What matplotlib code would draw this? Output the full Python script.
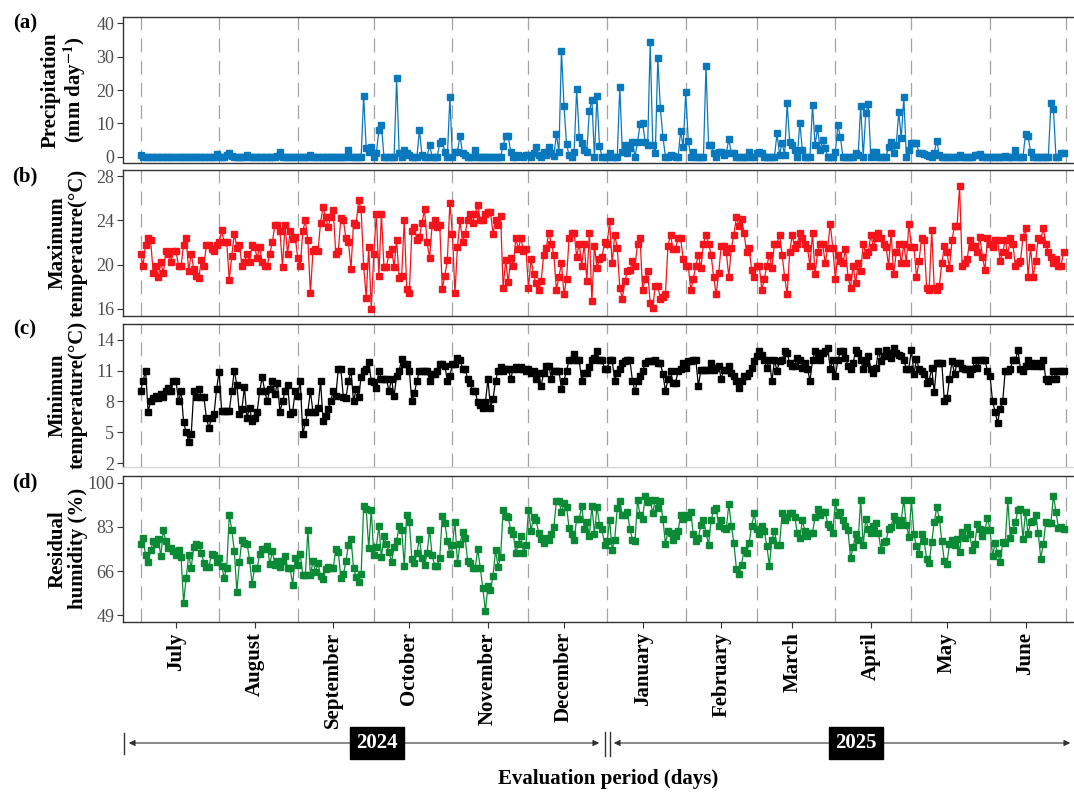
import matplotlib
matplotlib.use("Agg")
import matplotlib.pyplot as plt
import numpy as np
import pandas as pd
from matplotlib.patches import FancyArrowPatch
from matplotlib.lines import Line2D

# ---- data (daily, 1 Jul 2024 - 30 Jun 2025) ----
precipitation = [
    # Jul
    0.4, 0, 0, 0, 0, 0, 0, 0, 0, 0, 0, 0, 0, 0, 0, 0, 0, 0, 0, 0, 0, 0, 0, 0, 0, 0, 0, 0, 0, 0, 0.7,
    # Aug
    0, 0, 0, 0.5, 1.0, 0.3, 0, 0, 0, 0, 0, 0.5, 0, 0, 0, 0, 0, 0, 0, 0, 0, 0, 0, 0.3, 1.5, 0, 0, 0, 0, 0, 0,
    # Sep
    0, 0, 0, 0, 0, 0.5, 0, 0, 0, 0, 0, 0, 0, 0, 0, 0, 0, 0, 0, 0, 2.0, 0, 0, 0, 0, 0, 18.3, 2.5, 1.5, 3.0,
    # Oct
    0, 1.0, 8.0, 9.5, 0, 0, 0, 0, 0, 23.5, 1.0, 0, 2.0, 1.0, 0.5, 0, 0, 0, 8.0, 0.5, 0, 0, 3.5, 0, 0, 0,
    4.2, 4.8, 1.5, 0, 17.8,
    # Nov
    0, 1.5, 1.5, 6.3, 1.0, 0.5, 0, 0, 0, 2.0, 0, 0, 0, 0, 0, 0, 0, 0, 0, 0, 3.3, 6.2, 6.2, 1.5, 0, 0, 0.5, 0.3, 0, 0.5,
    # Dec
    0.5, 0, 1.0, 2.8, 0.5, 0, 1.5, 0.5, 3.0, 1.0, 0.3, 6.7, 1.5, 31.8, 15.2, 3.7, 0.5, 0, 1.5, 20.3, 6.0, 4.2,
    2.0, 1.5, 13.7, 17.0, 0, 18.2, 3.2, 0, 0,
    # Jan
    0, 1.0, 0, 0, 0, 21.0, 1.5, 3.5, 1.0, 2.5, 4.3, 0, 4.5, 9.7, 10.2, 4.5, 3.5, 34.3, 3.5, 1.0, 29.5, 14.5,
    6.0, 0, 0, 0.5, 0.3, 0, 0, 7.7, 2.9,
    # Feb
    19.5, 4.8, 0, 1.5, 0, 0, 0, 0, 27.2, 3.5, 3.5, 1.0, 0, 1.5, 1.3, 0.5, 1.0, 5.3, 1.0, 1.0, 0, 0, 0, 0, 0, 1.5, 0, 0,
    # Mar
    1.0, 1.5, 1.0, 0, 0, 0, 0, 0, 7.0, 0.5, 4.2, 0.5, 16.0, 4.5, 3.5, 2.0, 0, 10.2, 2.0, 0, 0, 0, 15.5, 3.5,
    8.5, 2.0, 5.0, 2.5, 0, 0, 0,
    # Apr
    1.5, 9.5, 5.8, 0, 0, 0, 0, 0, 1.0, 0.5, 15.3, 0, 13.0, 15.8, 0, 1.5, 1.5, 0, 0, 0, 0, 3.0, 4.5, 1.0, 3.5,
    13.3, 5.5, 18.0, 0, 2.0,
    # May
    4.2, 4.0, 4.2, 1.0, 1.0, 0.7, 0.5, 0.3, 0, 1.2, 4.8, 0.5, 0, 0, 0, 0, 0, 0, 0, 0.5, 0, 0, 0, 0, 0, 0.5, 0.5,
    0.7, 0, 0, 0,
    # Jun
    0, 0, 0, 0, 0, 0, 0.3, 0, 0, 0, 2.0, 0, 0, 0, 6.8, 6.2, 1.5, 0, 0, 0, 0, 0, 0, 0, 16.0, 14.3, 0, 0, 1.0, 1.0,
]

tmax = [
    # Jul
    21.0, 19.9, 21.8, 22.4, 22.2, 19.2, 19.9, 18.9, 20.2, 19.2, 21.2, 21.0, 20.2, 21.2, 21.2, 19.9, 19.9, 21.8,
    22.4, 19.4, 21.0, 19.6, 19.0, 18.8, 20.4, 19.9, 21.8, 21.8, 21.4, 21.2, 21.8,
    # Aug
    22.0, 23.1, 22.0, 22.0, 18.6, 20.8, 22.8, 21.5, 21.8, 19.9, 20.2, 21.0, 20.2, 21.8, 21.6, 20.6, 21.6, 20.2,
    19.9, 19.9, 21.0, 22.0, 23.6, 23.6, 23.0, 19.8, 23.6, 21.0, 23.0, 22.3, 22.5,
    # Sep
    20.6, 19.9, 23.0, 24.0, 22.2, 17.4, 21.2, 21.4, 21.2, 23.8, 25.2, 24.3, 23.4, 24.3, 24.9, 21.0, 21.2, 24.2,
    24.0, 22.4, 22.0, 19.6, 23.8, 23.6, 25.8, 25.0, 19.9, 17.0, 21.6, 16.0,
    # Oct
    21.0, 24.6, 19.0, 24.6, 19.8, 19.8, 21.0, 21.4, 19.8, 22.2, 18.8, 19.0, 24.0, 17.8, 17.4, 23.0, 23.4, 22.2,
    22.5, 23.8, 25.0, 22.0, 20.6, 23.6, 24.0, 23.4, 23.6, 17.8, 19.0, 20.4, 25.6,
    # Nov
    22.8, 17.4, 21.6, 24.0, 22.0, 22.8, 24.0, 24.6, 23.8, 24.6, 25.4, 24.0, 24.0, 24.6, 24.8, 24.8, 22.8, 24.0,
    23.6, 24.4, 17.9, 20.4, 18.4, 20.6, 19.9, 22.4, 21.4, 22.4, 21.2, 21.4,
    # Dec
    17.9, 20.5, 19.1, 18.3, 17.7, 18.5, 20.9, 21.5, 22.9, 21.9, 20.9, 17.7, 18.9, 20.1, 17.3, 18.7, 22.4, 22.9,
    22.9, 20.7, 21.9, 19.9, 21.9, 18.5, 22.9, 16.7, 21.7, 19.7, 20.5, 20.7, 22.0,
    # Jan
    21.9, 23.9, 20.1, 22.7, 21.5, 17.9, 16.9, 18.5, 19.4, 19.5, 20.3, 19.9, 21.9, 22.4, 17.7, 18.7, 19.4, 16.5,
    16.1, 18.1, 18.1, 16.9, 17.1, 17.3, 21.7, 22.7, 21.4, 21.4, 22.4, 22.4, 20.5,
    # Feb
    19.9, 19.9, 17.7, 18.7, 19.9, 20.9, 19.7, 21.9, 22.7, 21.9, 20.9, 18.9, 17.3, 19.2, 21.7, 21.7, 21.1, 18.9,
    21.5, 22.7, 24.3, 23.5, 24.1, 22.9, 21.1, 21.5, 19.5, 18.9,
    # Mar
    19.9, 19.9, 17.7, 18.7, 19.9, 20.9, 19.7, 21.9, 21.9, 22.7, 20.9, 18.9, 17.3, 21.1, 22.7, 21.5, 21.9, 22.9,
    22.4, 21.9, 21.5, 19.9, 22.9, 19.1, 21.1, 21.9, 21.9, 20.1, 21.5, 23.7, 21.5,
    # Apr
    18.7, 20.9, 20.3, 20.1, 21.4, 18.9, 17.9, 19.9, 18.3, 20.1, 19.4, 21.9, 20.9, 21.1, 22.7, 21.6, 22.4, 22.9,
    22.4, 21.9, 21.6, 19.9, 22.9, 19.1, 21.1, 21.9, 20.1, 21.9, 20.1, 23.7,
    # May
    21.6, 21.6, 18.9, 20.3, 22.4, 22.2, 17.9, 17.7, 23.1, 17.9, 17.7, 18.1, 20.1, 21.7, 21.1, 19.7, 22.2, 23.5,
    23.5, 27.1, 19.9, 20.1, 20.5, 22.2, 21.6, 21.7, 21.1, 22.5, 20.7, 19.5, 22.4,
    # Jun
    21.9, 21.6, 22.2, 22.2, 20.3, 21.1, 22.2, 20.9, 22.4, 21.9, 19.9, 20.1, 20.3, 22.5, 23.3, 18.9, 21.6, 18.9,
    20.3, 22.4, 22.2, 23.3, 21.9, 21.1, 20.7, 20.1, 20.5, 19.9, 19.9, 21.1,
]

tmin = [
    # Jul
    9.0, 10.0, 11.0, 7.0, 8.0, 8.3, 8.5, 8.3, 8.7, 8.4, 9.0, 9.3, 9.0, 10.0, 10.0, 8.0, 9.0, 6.0, 5.0, 4.1, 4.8,
    9.0, 8.4, 9.2, 8.4, 8.4, 6.4, 5.4, 6.4, 6.8, 9.2,
    # Aug
    10.9, 7.1, 7.1, 7.1, 7.1, 9.0, 11.0, 9.6, 6.8, 7.3, 9.4, 6.4, 7.4, 6.1, 6.4, 7.0, 9.0, 10.4, 9.0, 8.0, 9.2,
    10.0, 8.7, 9.8, 7.0, 8.0, 9.0, 9.6, 6.8, 7.0, 9.0,
    # Sep
    8.5, 10.0, 4.8, 6.0, 7.0, 9.0, 7.0, 7.0, 7.4, 10.0, 6.1, 6.6, 7.3, 8.0, 9.0, 8.5, 11.2, 11.2, 8.4, 8.3, 10.0,
    11.0, 8.0, 9.2, 8.4, 10.4, 11.0, 11.2, 11.8, 10.0,
    # Oct
    9.9, 9.3, 11.0, 10.2, 10.2, 10.2, 9.0, 10.2, 8.5, 10.5, 11.0, 12.1, 11.6, 11.6, 11.0, 8.0, 8.8, 10.0, 11.0,
    11.0, 11.0, 11.0, 10.0, 10.7, 10.7, 11.0, 11.6, 11.6, 11.5, 10.0, 10.5,
    # Nov
    11.6, 11.6, 12.2, 12.0, 11.2, 11.2, 10.2, 9.8, 9.0, 9.0, 7.9, 7.7, 7.4, 7.9, 10.2, 7.4, 8.2, 10.0, 11.0, 11.4,
    11.0, 11.2, 11.2, 10.2, 11.2, 11.4, 11.2, 11.4, 11.2, 11.0,
    # Dec
    11.2, 10.8, 11.0, 10.2, 10.8, 9.5, 10.8, 11.5, 11.5, 10.2, 11.0, 11.0, 11.0, 9.2, 10.0, 11.0, 12.0, 12.0,
    12.6, 12.0, 12.0, 10.0, 10.8, 10.8, 11.4, 12.0, 12.2, 12.9, 12.0, 12.0, 11.2,
    # Jan
    11.2, 12.0, 12.0, 10.0, 10.8, 11.2, 11.7, 11.9, 12.0, 12.0, 10.0, 9.0, 10.0, 10.5, 11.0, 11.7, 11.9, 11.9,
    11.9, 12.0, 11.7, 11.7, 10.7, 9.0, 10.2, 11.0, 9.8, 9.8, 11.0, 11.2, 11.7,
    # Feb
    11.3, 11.9, 11.9, 12.0, 12.0, 9.5, 11.1, 11.1, 11.1, 11.1, 11.7, 11.1, 11.3, 11.5, 10.2, 11.1, 11.1, 11.5,
    10.8, 10.5, 10.0, 9.3, 10.0, 10.5, 10.5, 10.8, 11.3, 11.9,
    # Mar
    12.4, 12.9, 12.5, 12.0, 11.3, 12.0, 10.0, 12.0, 11.0, 11.9, 12.0, 12.9, 12.7, 11.7, 11.5, 11.5, 12.2, 12.0,
    11.3, 11.7, 11.2, 10.0, 12.0, 12.9, 12.7, 12.0, 12.7, 12.9, 13.2, 11.2, 12.0,
    # Apr
    10.5, 12.0, 12.9, 12.9, 12.2, 11.5, 11.2, 11.7, 13.0, 12.7, 12.0, 11.2, 11.7, 12.4, 11.2, 10.8, 11.3, 12.9,
    11.9, 12.4, 13.0, 12.7, 12.2, 13.2, 12.7, 12.5, 12.4, 12.0, 11.2, 11.2,
    # May
    13.0, 10.7, 12.1, 11.2, 11.0, 10.7, 9.8, 10.0, 11.3, 8.9, 11.7, 11.7, 11.7, 8.0, 8.3, 10.2, 11.9, 10.7, 11.7,
    11.7, 11.3, 11.2, 11.2, 10.7, 11.2, 12.0, 11.3, 12.0, 12.0, 12.0, 11.0,
    # Jun
    10.5, 8.0, 7.0, 5.9, 7.3, 8.0, 11.0, 11.0, 11.2, 12.0, 12.0, 13.0, 11.2, 11.0, 11.5, 12.0, 11.7, 11.5, 11.7,
    11.5, 11.5, 12.0, 10.2, 10.0, 10.2, 11.0, 10.2, 11.0, 11.0, 11.0,
]

humidity = [
    # Jul
    76.6, 78.8, 72.1, 69.5, 74.2, 77.4, 76.4, 78.5, 71.7, 81.7, 77.4, 74.8, 74.8, 73.7, 72.1, 74.2, 71.3, 53.8,
    63.3, 72.1, 67.3, 75.3, 76.6, 76.1, 72.9, 69.2, 67.6, 67.6, 72.6, 72.1, 69.5,
    # Aug
    71.0, 68.1, 63.3, 67.3, 87.6, 81.9, 73.7, 58.0, 69.5, 78.0, 77.0, 76.6, 70.4, 61.0, 67.1, 67.3, 72.4, 74.4,
    74.4, 75.8, 68.7, 73.7, 68.4, 69.7, 67.6, 69.7, 71.7, 67.3, 67.1, 60.7, 71.0,
    # Sep
    68.4, 72.6, 64.4, 64.4, 81.9, 64.4, 69.7, 65.7, 69.1, 64.1, 62.8, 66.8, 67.7, 67.3, 67.1, 74.4, 73.4, 63.3,
    64.7, 69.7, 76.1, 78.4, 67.3, 63.7, 61.8, 64.7, 91.0, 89.9, 74.8, 89.6,
    # Oct
    72.1, 75.3, 83.5, 71.3, 79.7, 76.4, 73.3, 69.5, 75.3, 77.7, 83.3, 81.7, 68.1, 87.6, 85.0, 70.8, 69.2, 73.0,
    78.4, 71.0, 68.4, 73.0, 81.9, 72.1, 68.1, 68.1, 71.0, 87.3, 84.6, 77.7, 72.4,
    # Nov
    76.1, 85.0, 69.1, 76.6, 81.0, 78.8, 70.0, 69.1, 67.1, 67.3, 74.4, 67.1, 59.4, 50.5, 60.2, 58.8, 64.1, 74.0,
    67.7, 71.3, 89.6, 87.3, 86.7, 81.9, 80.3, 73.0, 76.4, 79.7, 73.0, 76.1,
    # Dec
    89.5, 81.5, 86.8, 85.5, 80.8, 78.5, 76.8, 78.8, 78.1, 80.1, 82.8, 92.9, 92.9, 88.8, 92.2, 90.8, 82.6, 80.1,
    78.1, 86.2, 86.2, 91.1, 82.2, 84.8, 79.5, 91.1, 80.4, 90.8, 83.9, 82.2, 76.1,
    # Jan
    77.5, 85.5, 74.1, 78.1, 90.2, 92.9, 87.5, 87.5, 88.8, 82.2, 78.1, 77.5, 93.5, 87.5, 86.2, 94.9, 92.5, 93.5,
    88.4, 93.5, 90.2, 92.9, 86.2, 76.4, 81.5, 80.8, 78.1, 79.5, 81.5, 87.5, 86.2,
    # Feb
    87.5, 86.8, 88.8, 80.1, 77.5, 78.8, 83.9, 85.8, 80.8, 76.1, 85.5, 89.5, 90.2, 83.5, 85.5, 82.6, 82.2, 91.9,
    83.5, 76.8, 66.8, 64.8, 68.4, 74.1, 72.8, 76.8, 83.5, 88.2,
    # Mar
    82.2, 80.1, 83.5, 81.5, 75.5, 68.1, 78.1, 81.5, 76.1, 76.1, 88.2, 85.5, 86.8, 88.2, 88.2, 86.8, 80.8, 78.8,
    85.5, 81.5, 79.5, 80.8, 80.8, 86.8, 89.8, 87.5, 88.8, 88.8, 84.2, 82.8, 80.8,
    # Apr
    92.5, 87.5, 88.8, 85.5, 83.5, 81.7, 71.0, 75.1, 80.4, 78.1, 93.3, 75.9, 86.2, 82.2, 80.8, 83.5, 84.4, 80.8,
    74.1, 77.2, 77.5, 82.2, 83.1, 87.1, 85.8, 83.9, 85.8, 93.3, 83.9, 79.1,
    # May
    93.3, 80.1, 75.5, 72.4, 80.4, 77.7, 70.8, 69.2, 77.2, 84.8, 90.6, 86.2, 77.5, 69.7, 68.8, 76.4, 78.1, 75.9,
    78.5, 73.5, 81.2, 78.8, 83.1, 80.1, 74.1, 76.4, 84.2, 82.2, 79.5, 81.7, 86.6,
    # Jun
    81.7, 71.8, 76.8, 72.8, 69.4, 77.2, 76.8, 93.3, 78.8, 81.7, 84.8, 89.5, 89.8, 78.5, 88.8, 80.4, 84.8, 85.2,
    87.5, 80.8, 70.8, 76.4, 84.8, 84.4, 84.4, 95.1, 88.8, 82.6, 83.1, 82.2,
]

month_names = ["July", "August", "September", "October", "November", "December",
               "January", "February", "March", "April", "May", "June"]
panel_tags = ["(a)", "(b)", "(c)", "(d)"]
y_titles = ["Precipitation\n(mm day$^{\\mathbf{-1}}$)", "Maximum\ntemperature(°C)",
            "Minimun\ntemperature(°C)", "Residual\nhumidity (%)"]
y_ticks = [[0, 10, 20, 30, 40], [16, 20, 24, 28], [2, 5, 8, 11, 14], [49, 66, 83, 100]]
years = ["2024", "2025"]

# ---- styling ----
plt.rcParams["font.family"] = ["Liberation Serif", "DejaVu Serif"]
plt.rcParams["mathtext.fontset"] = "stix"
plt.rcParams["lines.scale_dashes"] = False

W, H = 1074, 792
fig = plt.figure(figsize=(W / 100, H / 100), dpi=100)


def px_box(x0, top, x1, bottom):
    return [x0 / W, 1 - bottom / H, (x1 - x0) / W, (bottom - top) / H]


days = pd.date_range("2024-07-01", periods=len(precipitation), freq="D")
month_starts = pd.date_range("2024-07-01", "2025-07-01", freq="MS")
mid_months = month_starts[:-1] + pd.Timedelta(days=14)
pad = pd.Timedelta(days=7.06)
xlim = (month_starts[0] - pad, month_starts[-1] + pad)

series = [precipitation, tmax, tmin, humidity]
colors = ["#0A78BC", "#F5141B", "#000000", "#0A8A35"]
ylims = [(-1.74, 41.86), (15.38, 28.53), (1.67, 15.58), (46.45, 102.66)]
boxes = [(122.6, 17.2, 1084, 162.5), (122.6, 170.3, 1084, 315.6),
         (122.6, 323.6, 1084, 466.5), (122.6, 476.0, 1084, 621.7)]

for i in range(4):
    ax = fig.add_axes(px_box(*boxes[i]))
    for m in month_starts:
        ax.axvline(m, color="#A3A3A3", lw=0.9, linestyle=(0, (10, 6)), zorder=1)
    c = colors[i]
    ax.plot(days, series[i], color=c, lw=0.9, marker="s", ms=3.8,
            mfc=c, mec=c, zorder=3)
    ax.set_xlim(*xlim)
    ax.set_ylim(*ylims[i])
    ax.set_yticks(y_ticks[i])
    ax.tick_params(axis="y", labelsize=13, labelcolor="#4D4D4D", color="#333333",
                   length=4, width=0.8, pad=2)
    for s in ax.spines.values():
        s.set_color("#333333")
        s.set_linewidth(1.0)
    if i == 2:
        ax.spines["bottom"].set_color("#D5D5D5")
    if i < 3:
        ax.tick_params(axis="x", bottom=False, labelbottom=False)
    else:
        ax.set_xticks(mid_months)
        ax.set_xticklabels(month_names, rotation=90, fontsize=15,
                           fontweight="bold", va="top", ha="center")
        ax.tick_params(axis="x", color="#333333", length=4.5, width=0.8, pad=3)

    x0, top, x1, bottom = boxes[i]
    fig.text(25 / W, 1 - (top + 6) / H, panel_tags[i], ha="center", va="center",
             fontsize=15, fontweight="bold")
    fig.text(88 / W, 1 - (top + bottom) / 2 / H, y_titles[i], rotation=90,
             ha="right", va="center", multialignment="center",
             fontsize=15, fontweight="bold", linespacing=1.05)

# ---- year arrows under the axis ----
ya = 1 - 743 / H


def fig_arrow(xa, xb):
    fig.add_artist(FancyArrowPatch((xa / W, ya), (xb / W, ya), transform=fig.transFigure,
                                   arrowstyle="-|>", mutation_scale=9,
                                   lw=0.8, color="#333333"))


def fig_bar(x, t, b):
    fig.add_artist(Line2D([x / W, x / W], [1 - t / H, 1 - b / H],
                          transform=fig.transFigure, lw=1.0, color="#333333"))


fig_arrow(377, 126)
fig_arrow(377, 602)
fig_arrow(840, 611)
fig_arrow(840, 1073)
fig_bar(124, 733, 754)
fig_bar(604.5, 732, 756)
fig_bar(609.5, 732, 756)

for label, xc in zip(years, [377, 856]):
    fig.text(xc / W, ya, label, ha="center", va="center", color="white",
             fontsize=15, fontweight="bold",
             bbox=dict(boxstyle="square,pad=0.3", fc="black", ec="black"))

fig.text(608 / W, 1 - 779 / H, "Evaluation period (days)", ha="center", va="center",
         fontsize=15, fontweight="bold")

fig.savefig("out.png", dpi=100)
